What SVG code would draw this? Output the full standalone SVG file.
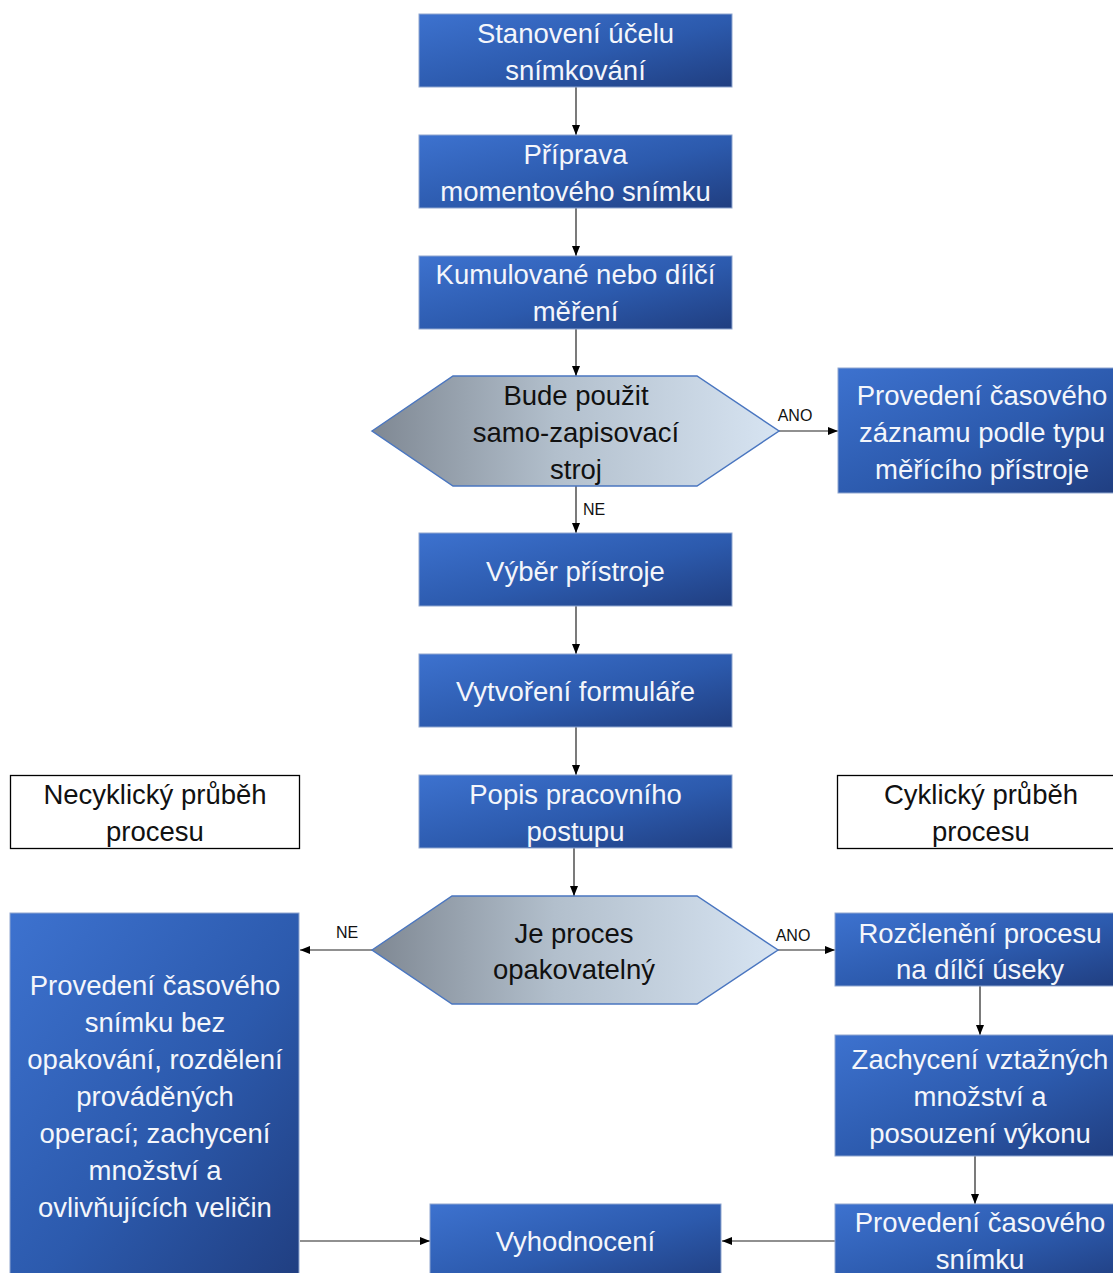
<svg xmlns="http://www.w3.org/2000/svg" width="1113" height="1273" viewBox="0 0 1113 1273">
  <defs>
    <linearGradient id="blueFill" x1="0" y1="0" x2="1" y2="1">
      <stop offset="0" stop-color="#3d72cf"/>
      <stop offset="0.55" stop-color="#2c5aad"/>
      <stop offset="1" stop-color="#203e80"/>
    </linearGradient>
    <linearGradient id="hexFill" x1="0" y1="0" x2="1" y2="0">
      <stop offset="0" stop-color="#7f8893"/>
      <stop offset="0.45" stop-color="#b2bfcc"/>
      <stop offset="1" stop-color="#d7e4f2"/>
    </linearGradient>
    <marker id="arrow" markerWidth="10" markerHeight="8" refX="10" refY="4" orient="auto" markerUnits="userSpaceOnUse">
      <path d="M0,0 L10,4 L0,8 Z" fill="#000"/>
    </marker>
  </defs>
  <style>
    .box { fill: url(#blueFill); stroke: #8fa6cf; stroke-width: 1; }
    .plain { fill: #fff; stroke: #000; stroke-width: 1.3; }
    .hex { fill: url(#hexFill); stroke: #4a76c0; stroke-width: 1.5; }
    .t { font-family: "Liberation Sans", Arial, sans-serif; font-size: 27.5px; text-anchor: middle; dominant-baseline: central; }
    .w { fill: #f4f6fb; }
    .k { fill: #111; }
    .lbl { font-family: "Liberation Sans", Arial, sans-serif; font-size: 16px; fill: #111; text-anchor: middle; dominant-baseline: central; }
    .conn { stroke: #222; stroke-width: 1.2; fill: none; marker-end: url(#arrow); }
  </style>

  <rect width="1113" height="1273" fill="#fff"/>

  <!-- connectors -->
  <g id="connectors">
    <line class="conn" x1="576" y1="87" x2="576" y2="135"/>
    <line class="conn" x1="576" y1="208" x2="576" y2="256"/>
    <line class="conn" x1="576" y1="329" x2="576" y2="376"/>
    <line class="conn" x1="779" y1="431" x2="838" y2="431"/>
    <line class="conn" x1="576" y1="486" x2="576" y2="533"/>
    <line class="conn" x1="576" y1="606" x2="576" y2="654"/>
    <line class="conn" x1="576" y1="727" x2="576" y2="775"/>
    <line class="conn" x1="574" y1="848" x2="574" y2="896"/>
    <line class="conn" x1="372" y1="950" x2="300" y2="950"/>
    <line class="conn" x1="778" y1="950" x2="835" y2="950"/>
    <line class="conn" x1="980" y1="986" x2="980" y2="1035"/>
    <line class="conn" x1="975" y1="1156" x2="975" y2="1204"/>
    <line class="conn" x1="300" y1="1241" x2="430" y2="1241"/>
    <line class="conn" x1="835" y1="1241" x2="722" y2="1241"/>
    <text class="lbl" x="795" y="415">ANO</text>
    <text class="lbl" x="594" y="509">NE</text>
    <text class="lbl" x="347" y="932">NE</text>
    <text class="lbl" x="793" y="935">ANO</text>
  </g>

  <g id="n-ucel">
    <rect class="box" x="419" y="14" width="313" height="73"/>
    <text class="t w" x="575.5" y="33">Stanovení účelu</text>
    <text class="t w" x="575.5" y="70">snímkování</text>
  </g>

  <g id="n-priprava">
    <rect class="box" x="419" y="135" width="313" height="73"/>
    <text class="t w" x="575.5" y="154">Příprava</text>
    <text class="t w" x="575.5" y="191">momentového snímku</text>
  </g>

  <g id="n-mereni">
    <rect class="box" x="419" y="256" width="313" height="73"/>
    <text class="t w" x="575.5" y="274">Kumulované nebo dílčí</text>
    <text class="t w" x="575.5" y="311">měření</text>
  </g>

  <g id="n-stroj">
    <polygon class="hex" points="372,431 453,376 697,376 779,431 697,486 453,486"/>
    <text class="t k" x="576" y="395">Bude použit</text>
    <text class="t k" x="576" y="432">samo-zapisovací</text>
    <text class="t k" x="576" y="469">stroj</text>
  </g>

  <g id="n-zaznam">
    <rect class="box" x="838" y="368" width="280" height="125"/>
    <text class="t w" x="982" y="395">Provedení časového</text>
    <text class="t w" x="982" y="432">záznamu podle typu</text>
    <text class="t w" x="982" y="469">měřícího přístroje</text>
  </g>

  <g id="n-vyber">
    <rect class="box" x="419" y="533" width="313" height="73"/>
    <text class="t w" x="575.5" y="571">Výběr přístroje</text>
  </g>

  <g id="n-formular">
    <rect class="box" x="419" y="654" width="313" height="73"/>
    <text class="t w" x="575.5" y="691">Vytvoření formuláře</text>
  </g>

  <g id="n-popis">
    <rect class="box" x="419" y="775" width="313" height="73"/>
    <text class="t w" x="575.5" y="794">Popis pracovního</text>
    <text class="t w" x="575.5" y="831">postupu</text>
  </g>

  <g id="n-necyklicky">
    <rect class="plain" x="10.5" y="775.5" width="289" height="73"/>
    <text class="t k" x="155" y="794">Necyklický průběh</text>
    <text class="t k" x="155" y="831">procesu</text>
  </g>

  <g id="n-cyklicky">
    <rect class="plain" x="837.5" y="775.5" width="280" height="73"/>
    <text class="t k" x="981" y="794">Cyklický průběh</text>
    <text class="t k" x="981" y="831">procesu</text>
  </g>

  <g id="n-opakovatelny">
    <polygon class="hex" points="372,950 452,896 697,896 778,950 697,1004 452,1004"/>
    <text class="t k" x="574" y="933">Je proces</text>
    <text class="t k" x="574" y="969">opakovatelný</text>
  </g>

  <g id="n-bez-opakovani">
    <rect class="box" x="10" y="913" width="289" height="370"/>
    <text class="t w" x="155" y="985">Provedení časového</text>
    <text class="t w" x="155" y="1022">snímku bez</text>
    <text class="t w" x="155" y="1059">opakování, rozdělení</text>
    <text class="t w" x="155" y="1096">prováděných</text>
    <text class="t w" x="155" y="1133">operací; zachycení</text>
    <text class="t w" x="155" y="1170">množství a</text>
    <text class="t w" x="155" y="1207">ovlivňujících veličin</text>
  </g>

  <g id="n-rozcleneni">
    <rect class="box" x="835" y="913" width="283" height="73"/>
    <text class="t w" x="980" y="933">Rozčlenění procesu</text>
    <text class="t w" x="980" y="969">na dílčí úseky</text>
  </g>

  <g id="n-zachyceni">
    <rect class="box" x="835" y="1035" width="283" height="121"/>
    <text class="t w" x="980" y="1059">Zachycení vztažných</text>
    <text class="t w" x="980" y="1096">množství a</text>
    <text class="t w" x="980" y="1133">posouzení výkonu</text>
  </g>

  <g id="n-snimek">
    <rect class="box" x="835" y="1204" width="283" height="80"/>
    <text class="t w" x="980" y="1222">Provedení časového</text>
    <text class="t w" x="980" y="1259">snímku</text>
  </g>

  <g id="n-vyhodnoceni">
    <rect class="box" x="430" y="1204" width="291" height="80"/>
    <text class="t w" x="575.5" y="1241">Vyhodnocení</text>
  </g>
</svg>
